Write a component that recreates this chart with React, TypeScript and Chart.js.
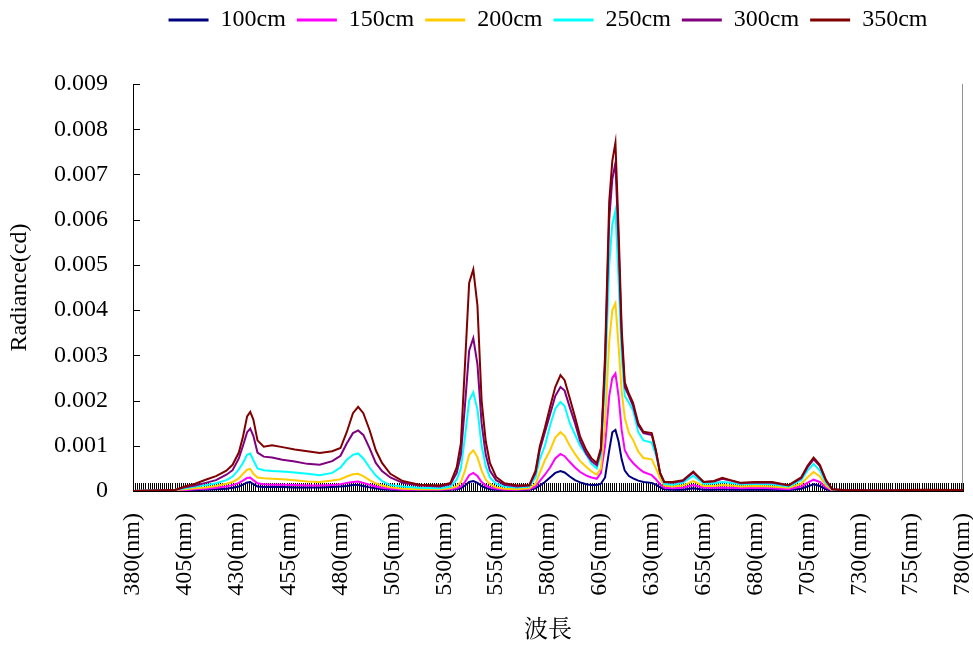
import React, { useEffect, useRef } from "react";
import { Chart, registerables } from "chart.js";

Chart.register(...registerables);

// Wavelength (nm) of each sample
const WAVELENGTHS = [
  380, 400, 405, 410, 415, 420, 425, 428, 431, 433, 435, 436.5, 438, 440, 443, 447, 452, 458, 464, 470,
  476, 480, 483, 486, 488.5, 491, 494, 497, 500, 504, 510, 518, 528, 533, 536, 538, 540, 542, 544, 546,
  548, 550, 552, 555, 559, 565, 571, 574, 576, 578.5, 581, 583.5, 586, 588, 590.5, 593, 595.5, 598.5, 601, 603.5,
  605.5, 607.5, 609.5, 611, 612.5, 614, 615.5, 617, 619, 621, 623.5, 626, 630, 632, 634, 636, 640, 645, 650, 655,
  660, 664, 668, 673, 680, 688, 696, 702, 705, 708, 711, 714, 717, 722, 740, 760, 780,
];

const S100 = [
  0, 0, 0.00001, 0.00002, 0.00003, 0.00004, 0.00005, 0.00007, 0.0001, 0.00014, 0.00019, 0.0002, 0.00015, 0.0001, 0.00009, 0.00009, 0.00009, 0.00008, 0.00008, 0.00008,
  0.00009, 0.0001, 0.00011, 0.00013, 0.00013, 0.00011, 0.00008, 0.00006, 0.00004, 0.00003, 0.00002, 0.00002, 0.00002, 0.00003, 0.00004, 0.00006, 0.00012, 0.0002, 0.00022, 0.00018,
  0.00011, 0.00007, 0.00004, 0.00003, 0.00002, 0.00002, 0.00003, 0.00006, 0.00012, 0.0002, 0.0003, 0.0004, 0.00044, 0.00041, 0.00032, 0.00024, 0.00019, 0.00015, 0.00013, 0.00013,
  0.00016, 0.0003, 0.0009, 0.0013, 0.00135, 0.0011, 0.0007, 0.00045, 0.00033, 0.00028, 0.00023, 0.0002, 0.00018, 0.00014, 0.00008, 0.00004, 0.00003, 0.00003, 0.00006, 0.00003,
  0.00003, 0.00004, 0.00003, 0.00003, 0.00003, 0.00003, 0.00002, 0.00005, 0.0001, 0.00015, 0.00011, 0.00004, 0, 0, 0, 0, 0,
];

const S150 = [
  0, 0.00001, 0.00002, 0.00004, 0.00005, 0.00007, 0.0001, 0.00013, 0.00018, 0.00023, 0.00029, 0.0003, 0.00024, 0.00017, 0.00015, 0.00014, 0.00014, 0.00013, 0.00012, 0.00012,
  0.00013, 0.00015, 0.00018, 0.0002, 0.00021, 0.00018, 0.00014, 0.0001, 0.00007, 0.00005, 0.00003, 0.00003, 0.00003, 0.00004, 0.00006, 0.0001, 0.0002, 0.00035, 0.0004, 0.00033,
  0.0002, 0.00012, 0.00008, 0.00005, 0.00003, 0.00003, 0.00004, 0.0001, 0.00022, 0.00036, 0.00052, 0.00072, 0.00082, 0.00077, 0.00064, 0.00052, 0.00042, 0.00034, 0.0003, 0.00027,
  0.0004, 0.001, 0.0021, 0.0025, 0.0026, 0.0021, 0.00135, 0.0009, 0.00073, 0.00062, 0.00051, 0.00042, 0.00035, 0.00026, 0.00015, 0.00007, 0.00006, 0.00007, 0.00013, 0.00007,
  0.00007, 0.00008, 0.00007, 0.00006, 0.00007, 0.00006, 0.00004, 0.0001, 0.00018, 0.00025, 0.0002, 0.00008, 0.00001, 0, 0, 0, 0,
];

const S200 = [
  0, 0.00002, 0.00004, 0.00006, 0.00008, 0.00011, 0.00016, 0.0002, 0.00028, 0.00038, 0.00047, 0.00049, 0.00038, 0.0003, 0.00028, 0.00027, 0.00026, 0.00024, 0.00021, 0.0002,
  0.00023, 0.00026, 0.00032, 0.00037, 0.00038, 0.00033, 0.00024, 0.00017, 0.00012, 0.00008, 0.00005, 0.00004, 0.00004, 0.00006, 0.0001, 0.0002, 0.00045, 0.0008, 0.0009, 0.00075,
  0.00045, 0.00025, 0.00015, 0.00008, 0.00005, 0.00004, 0.00006, 0.00016, 0.0004, 0.00068, 0.0009, 0.00118, 0.0013, 0.00122, 0.001, 0.00082, 0.00066, 0.00053, 0.00043, 0.00036,
  0.0005, 0.0015, 0.0033, 0.004, 0.00415, 0.0032, 0.0022, 0.00162, 0.00128, 0.00113, 0.00087, 0.00073, 0.0007, 0.0005, 0.00028, 0.00012, 0.0001, 0.00012, 0.00022, 0.00011,
  0.00011, 0.00013, 0.00012, 0.0001, 0.00011, 0.0001, 0.00007, 0.00016, 0.0003, 0.00042, 0.00032, 0.00012, 0.00002, 0.00001, 0, 0, 0,
];

const S250 = [
  0, 0.00003, 0.00006, 0.0001, 0.00013, 0.00017, 0.00024, 0.00032, 0.00048, 0.00062, 0.0008, 0.00083, 0.00068, 0.0005, 0.00046, 0.00044, 0.00043, 0.00041, 0.00038, 0.00035,
  0.0004, 0.00052, 0.00069, 0.0008, 0.00083, 0.00072, 0.00052, 0.00034, 0.00022, 0.00013, 0.0001, 0.00007, 0.00006, 0.0001, 0.00025, 0.0005, 0.0012, 0.002, 0.00218, 0.0018,
  0.001, 0.00055, 0.0003, 0.00016, 0.0001, 0.00008, 0.0001, 0.0003, 0.0007, 0.001, 0.00145, 0.00182, 0.00197, 0.00188, 0.0015, 0.00125, 0.001, 0.0008, 0.0006, 0.0005,
  0.0008, 0.0024, 0.005, 0.0059, 0.0062, 0.0047, 0.003, 0.0021, 0.00195, 0.00178, 0.0013, 0.00112, 0.00107, 0.0008, 0.0004, 0.00016, 0.00014, 0.00018, 0.00034, 0.00016,
  0.00017, 0.0002, 0.00018, 0.00015, 0.00016, 0.00015, 0.0001, 0.00024, 0.00045, 0.0006, 0.00045, 0.00018, 0.00003, 0.00001, 0, 0.00001, 0,
];

const S300 = [
  0, 0.00002, 0.00008, 0.00012, 0.00018, 0.00024, 0.00036, 0.00046, 0.00072, 0.001, 0.0013, 0.00138, 0.00122, 0.00085, 0.00076, 0.00074, 0.00069, 0.00065, 0.0006, 0.00058,
  0.00066, 0.00078, 0.00105, 0.00128, 0.00134, 0.00124, 0.00095, 0.00062, 0.00044, 0.0003, 0.00018, 0.00012, 0.0001, 0.00015, 0.0004, 0.0008, 0.0019, 0.0031, 0.00338, 0.0028,
  0.0015, 0.0008, 0.00045, 0.00024, 0.00014, 0.0001, 0.00012, 0.0004, 0.0009, 0.0013, 0.0017, 0.0021, 0.0023, 0.00222, 0.00185, 0.0015, 0.0011, 0.00082, 0.00066, 0.00057,
  0.0009, 0.0028, 0.006, 0.0069, 0.00725, 0.0055, 0.0034, 0.0023, 0.0021, 0.00188, 0.00145, 0.00128, 0.00124, 0.00088, 0.0004, 0.0002, 0.00018, 0.00022, 0.00041, 0.0002,
  0.00021, 0.00027, 0.00023, 0.00017, 0.00019, 0.00018, 0.00012, 0.00028, 0.00052, 0.0007, 0.00055, 0.00022, 0.00004, 0.00002, 0.00001, 0.00002, 0.00001,
];

const S350 = [
  0, 0.00002, 0.0001, 0.00016, 0.00025, 0.00033, 0.00045, 0.00058, 0.00085, 0.0012, 0.00165, 0.00175, 0.00158, 0.00112, 0.00098, 0.00101, 0.00097, 0.00092, 0.00088, 0.00084,
  0.00088, 0.00095, 0.0013, 0.00172, 0.00186, 0.00172, 0.00135, 0.0009, 0.00062, 0.00038, 0.00022, 0.00014, 0.00012, 0.00018, 0.00052, 0.00105, 0.0028, 0.0046, 0.0049, 0.0041,
  0.002, 0.0011, 0.00062, 0.00031, 0.00017, 0.00012, 0.00013, 0.00045, 0.00098, 0.0014, 0.00186, 0.0023, 0.00256, 0.00245, 0.00205, 0.00164, 0.0012, 0.0009, 0.00072, 0.00062,
  0.00095, 0.003, 0.0064, 0.0073, 0.0077, 0.0058, 0.0036, 0.0024, 0.00215, 0.00195, 0.0015, 0.00131, 0.00128, 0.0009, 0.0004, 0.0002, 0.0002, 0.00024, 0.00043, 0.0002,
  0.00022, 0.00029, 0.00024, 0.00018, 0.0002, 0.0002, 0.00013, 0.0003, 0.00055, 0.00074, 0.00058, 0.00024, 0.00004, 0.00002, 0.00001, 0.00003, 0.00002,
];

const SERIES = [S100, S150, S200, S250, S300, S350];
const SERIES_LABELS = ["100cm", "150cm", "200cm", "250cm", "300cm", "350cm"];
const SERIES_COLORS = ["#000080", "#FF00FF", "#FFCC00", "#00FFFF", "#800080", "#800000"];

const X_TICKS = [380, 405, 430, 455, 480, 505, 530, 555, 580, 605, 630, 655, 680, 705, 730, 755, 780];
const X_MINOR_STEP = 1;
const Y_TICKS = [0, 0.001, 0.002, 0.003, 0.004, 0.005, 0.006, 0.007, 0.008, 0.009];

const X_TITLE = "波長";
const Y_TITLE = "Radiance(cd)";

const SERIF = "'Liberation Serif', 'Times New Roman', serif";

const inwardTicks = {
  id: "inwardTicks",
  beforeDatasetsDraw(chart: any) {
    const { ctx, chartArea, scales } = chart;
    const x = scales.x;
    const y = scales.y;
    ctx.save();
    ctx.lineWidth = 1;
    ctx.strokeStyle = "#000000";
    ctx.beginPath();
    for (let nm = X_TICKS[0]; nm <= X_TICKS[X_TICKS.length - 1]; nm += X_MINOR_STEP) {
      const px = Math.round(x.getPixelForValue(nm)) + 0.5;
      ctx.moveTo(px, chartArea.bottom);
      ctx.lineTo(px, chartArea.bottom - 8);
    }
    for (const v of Y_TICKS) {
      const py = Math.round(y.getPixelForValue(v)) + 0.5;
      ctx.moveTo(chartArea.left, py);
      ctx.lineTo(chartArea.left + 7, py);
    }
    ctx.stroke();
    ctx.strokeStyle = "#909090";
    ctx.beginPath();
    const rx = Math.round(chartArea.right) - 0.5;
    ctx.moveTo(rx, chartArea.top);
    ctx.lineTo(rx, chartArea.bottom);
    ctx.stroke();
    ctx.restore();
  },
};

export default function App() {
  const ref = useRef<HTMLCanvasElement>(null);

  useEffect(() => {
    if (!ref.current) return;
    const datasets = SERIES.map((values, i) => ({
      label: SERIES_LABELS[i],
      data: WAVELENGTHS.map((w, j) => ({ x: w, y: values[j] })),
      borderColor: SERIES_COLORS[i],
      backgroundColor: SERIES_COLORS[i],
      borderWidth: 2,
      pointRadius: 0,
      tension: 0,
      order: SERIES.length - 1 - i,
    }));

    const chart = new Chart(ref.current, {
      type: "line",
      data: { datasets },
      plugins: [inwardTicks],
      options: {
        animation: false,
        responsive: false,
        devicePixelRatio: 1,
        layout: { padding: { top: -3, left: 0, right: 10, bottom: 0 } },
        plugins: {
          tooltip: { enabled: false },
          legend: {
            position: "top",
            fullSize: false,
            weight: 1000,
            labels: {
              boxWidth: 40,
              boxHeight: 3,
              padding: 11,
              color: "#000000",
              font: { family: SERIF, size: 24 },
              sort: (a: any, b: any) => a.datasetIndex - b.datasetIndex,
              generateLabels: (c: any) =>
                (Chart.defaults.plugins.legend.labels as any)
                  .generateLabels(c)
                  .map((l: any) => ({ ...l, lineWidth: 0 })),
            },
          },
          title: {
            display: true,
            text: "",
            weight: 100,
            padding: 0,
            font: { size: 42, lineHeight: 1 },
          },
        },
        scales: {
          x: {
            type: "linear",
            min: X_TICKS[0],
            max: X_TICKS[X_TICKS.length - 1],
            afterBuildTicks: (axis: any) => {
              axis.ticks = X_TICKS.map((v) => ({ value: v }));
            },
            afterFit: (axis: any) => {
              axis.height = 154;
              axis.paddingLeft = 0;
              axis.paddingRight = 0;
            },
            grid: { display: false, drawTicks: false },
            border: { display: true, color: "#000000", width: 1 },
            ticks: {
              autoSkip: false,
              minRotation: 90,
              maxRotation: 90,
              padding: 22,
              color: "#000000",
              font: { family: SERIF, size: 24 },
              callback: (v: any) => `${v}(nm)`,
            },
            title: {
              display: true,
              text: X_TITLE,
              color: "#000000",
              font: { family: "'Noto Serif CJK TC', 'Noto Sans CJK TC', serif", size: 24, lineHeight: 1.2 },
              padding: { top: 0, bottom: 3 },
            },
          },
          y: {
            type: "linear",
            min: 0,
            max: 0.009,
            afterBuildTicks: (axis: any) => {
              axis.ticks = Y_TICKS.map((v) => ({ value: v }));
            },
            afterFit: (axis: any) => {
              axis.width = 133;
            },
            grid: { display: false, drawTicks: false },
            border: { display: true, color: "#000000", width: 1 },
            ticks: {
              padding: 25,
              color: "#000000",
              font: { family: SERIF, size: 24 },
              callback: (v: any) => (v === 0 ? "0" : Number(v).toFixed(3)),
            },
            title: {
              display: true,
              text: Y_TITLE,
              color: "#000000",
              font: { family: SERIF, size: 24, lineHeight: 1.2 },
              padding: { top: 5, bottom: 0 },
            },
          },
        },
      } as any,
    });
    return () => chart.destroy();
  }, []);

  return (
    <div style={{ position: "absolute", left: 0, top: 0, width: 973, height: 645, background: "#ffffff" }}>
      <canvas ref={ref} width={973} height={645} style={{ display: "block" }} />
    </div>
  );
}
